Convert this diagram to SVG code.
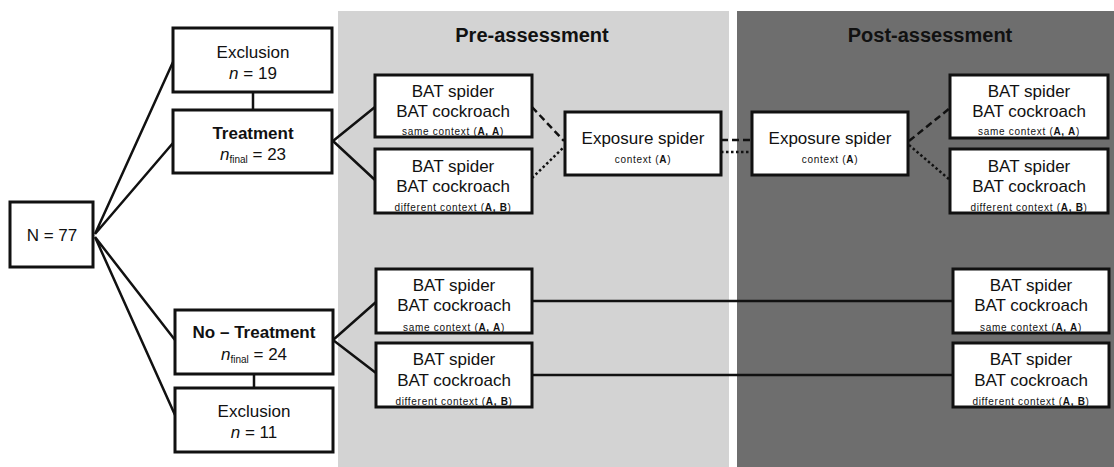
<svg xmlns="http://www.w3.org/2000/svg" width="1114" height="467" viewBox="0 0 1114 467">
<style>
.box{fill:#fff;stroke:#111;stroke-width:3}
.ln{fill:none;stroke:#111;stroke-width:2.5}
.dash{fill:none;stroke:#111;stroke-width:2.5;stroke-dasharray:7 4}
.dot{fill:none;stroke:#111;stroke-width:2.5;stroke-dasharray:2.5 2.5}
text{font-family:"Liberation Sans",Arial,sans-serif;fill:#111;text-anchor:middle}
.t{font-size:17px}
.b{font-weight:bold}
.s{font-size:10px;letter-spacing:0.7px}
.h{font-size:20px;font-weight:bold}
.sub{font-size:10px}
</style>
<rect width="1114" height="467" fill="#fff"/>
<g id="panel-pre"><rect x="338" y="11" width="391" height="456" fill="#d3d3d3"/><text class="h" x="532" y="42">Pre-assessment</text></g>
<g id="panel-post"><rect x="737" y="11" width="377" height="456" fill="#6e6e6e"/><text class="h" x="930" y="42">Post-assessment</text></g>
<g id="connectors">
<path class="ln" d="M95,234 L173,62 M95,234 L173,143 M95,237 L175,340 M95,237 L175,415"/>
<path class="ln" d="M253,92 L253,110 M254,374 L254,388"/>
<path class="ln" d="M333,141 L375,107 M333,141 L375,180 M333,340 L376,302 M333,340 L376,373"/>
<path class="dash" d="M532,107 L564,141"/>
<path class="dot" d="M532,178 L564,147"/>
<path class="dash" d="M721,140 L752,140"/>
<path class="dot" d="M721,152 L752,152"/>
<path class="dash" d="M909,141 L950,108"/>
<path class="dot" d="M909,145 L950,180"/>
<path class="ln" d="M532,301 L953,301 M532,375 L953,375"/>
</g>
<g id="n77"><rect class="box" x="10" y="202" width="83" height="65"/><text class="t" x="52" y="241">N = 77</text></g>
<g id="excl1"><rect class="box" x="173" y="28" width="159" height="64"/><text class="t" x="253" y="58">Exclusion</text><text class="t" x="253" y="79"><tspan font-style="italic">n</tspan> = 19</text></g>
<g id="treat"><rect class="box" x="173" y="110" width="159" height="63"/><text class="t b" x="253" y="139">Treatment</text><text class="t" x="253" y="160"><tspan font-style="italic">n</tspan><tspan class="sub" dy="3">final</tspan><tspan dy="-3"> = 23</tspan></text></g>
<g id="notreat"><rect class="box" x="175" y="310" width="158" height="64"/><text class="t b" x="254" y="338">No – Treatment</text><text class="t" x="254" y="360"><tspan font-style="italic">n</tspan><tspan class="sub" dy="3">final</tspan><tspan dy="-3"> = 24</tspan></text></g>
<g id="excl2"><rect class="box" x="175" y="388" width="158" height="64"/><text class="t" x="254" y="417">Exclusion</text><text class="t" x="254" y="438"><tspan font-style="italic">n</tspan> = 11</text></g>
<g id="pre-t-same"><rect class="box" x="375" y="75" width="157" height="62"/><text class="t" x="453" y="97">BAT spider</text><text class="t" x="453" y="117">BAT cockroach</text><text class="s" x="453" y="135">same context (<tspan class="b">A, A</tspan>)</text></g>
<g id="pre-t-diff"><rect class="box" x="375" y="149" width="157" height="64"/><text class="t" x="453" y="172">BAT spider</text><text class="t" x="453" y="192">BAT cockroach</text><text class="s" x="453" y="211">different context (<tspan class="b">A, B</tspan>)</text></g>
<g id="exp-pre"><rect class="box" x="565" y="112" width="156" height="63"/><text class="t" x="643" y="144">Exposure spider</text><text class="s" x="643" y="163">context (<tspan class="b">A</tspan>)</text></g>
<g id="exp-post"><rect class="box" x="752" y="112" width="156" height="63"/><text class="t" x="830" y="144">Exposure spider</text><text class="s" x="830" y="163">context (<tspan class="b">A</tspan>)</text></g>
<g id="post-t-same"><rect class="box" x="950" y="75" width="158" height="63"/><text class="t" x="1029" y="97">BAT spider</text><text class="t" x="1029" y="117">BAT cockroach</text><text class="s" x="1029" y="135">same context (<tspan class="b">A, A</tspan>)</text></g>
<g id="post-t-diff"><rect class="box" x="950" y="149" width="158" height="64"/><text class="t" x="1029" y="172">BAT spider</text><text class="t" x="1029" y="192">BAT cockroach</text><text class="s" x="1029" y="211">different context (<tspan class="b">A, B</tspan>)</text></g>
<g id="pre-n-same"><rect class="box" x="376" y="269" width="156" height="64"/><text class="t" x="454" y="291">BAT spider</text><text class="t" x="454" y="311">BAT cockroach</text><text class="s" x="454" y="331">same context (<tspan class="b">A, A</tspan>)</text></g>
<g id="pre-n-diff"><rect class="box" x="376" y="343" width="156" height="64"/><text class="t" x="454" y="365">BAT spider</text><text class="t" x="454" y="386">BAT cockroach</text><text class="s" x="454" y="405">different context (<tspan class="b">A, B</tspan>)</text></g>
<g id="post-n-same"><rect class="box" x="953" y="269" width="156" height="64"/><text class="t" x="1031" y="291">BAT spider</text><text class="t" x="1031" y="311">BAT cockroach</text><text class="s" x="1031" y="331">same context (<tspan class="b">A, A</tspan>)</text></g>
<g id="post-n-diff"><rect class="box" x="953" y="343" width="156" height="64"/><text class="t" x="1031" y="365">BAT spider</text><text class="t" x="1031" y="386">BAT cockroach</text><text class="s" x="1031" y="405">different context (<tspan class="b">A, B</tspan>)</text></g>
</svg>
